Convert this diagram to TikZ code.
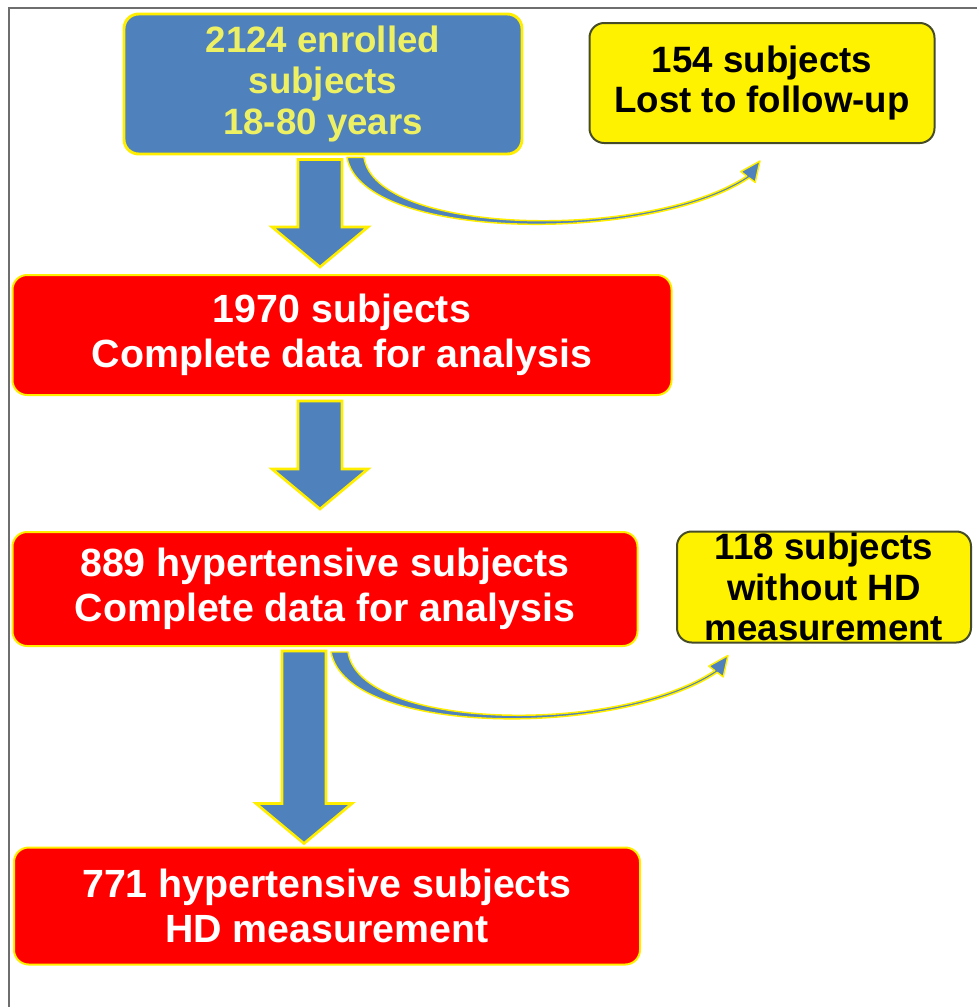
\documentclass[tikz,border=0pt]{standalone}
\usepackage{fontspec}
\setmainfont{Liberation Sans}
\usetikzlibrary{calc}

\definecolor{boxblue}{RGB}{79,129,189}
\definecolor{glowyellow}{RGB}{255,238,0}
\definecolor{textyellow}{RGB}{238,240,100}
\definecolor{boxred}{RGB}{255,0,0}
\definecolor{edgeolive}{RGB}{70,75,40}
\definecolor{framegray}{RGB}{110,110,110}

\tikzset{
  startbox/.style={
    draw=glowyellow,
    fill=boxblue,
    line width=2.2pt,
    rounded corners=11pt,
    inner sep=0pt,
    align=center,
    text=textyellow,
    font=\fontsize{27.5}{31}\selectfont\bfseries,
  },
  mainbox/.style={
    draw=glowyellow,
    fill=boxred,
    line width=1.5pt,
    rounded corners=11pt,
    inner sep=0pt,
    align=center,
    text=white,
    font=\fontsize{29.5}{33.5}\selectfont\bfseries,
  },
  lostbox/.style={
    draw=edgeolive,
    fill=yellow,
    line width=1.5pt,
    rounded corners=11pt,
    inner sep=0pt,
    align=center,
    text=black,
    font=\fontsize{27.5}{30.5}\selectfont\bfseries,
  },
  fatarrow/.style={draw=glowyellow, fill=boxblue, line width=2pt, line join=miter},
  sidearrow/.style={draw=glowyellow, fill=boxblue, line width=1.1pt, line join=round},
}

\newcommand{\fatarrow}[2]{%
  \path[fatarrow] ($(#1)+(-22,0)$) -- ($(#2)+(-22,-40)$) -- ($(#2)+(-48,-40)$) -- (#2)
    -- ($(#2)+(48,-40)$) -- ($(#2)+(22,-40)$) -- ($(#1)+(22,0)$) -- cycle;}
\newcommand{\sidearrow}[2]{%
  \path[sidearrow] (#1) .. controls ($(#1)+(15,84)$) and ($(#2)+(-110,83)$) .. ($(#2)+(-10.8,16.9)$)
    -- ($(#2)+(-4.8,21.4)$) -- (#2) -- ($(#2)+(-19.2,10.6)$) -- ($(#2)+(-13.2,15.1)$)
    .. controls ($(#2)+(-112,80)$) and ($(#1)+(29,78)$) .. ($(#1)+(17,0)$) -- cycle;}

\begin{document}
\begin{tikzpicture}[x=0.75pt, y=-0.75pt]
  \useasboundingbox[fill=white] (0,0) rectangle (977,1007);
  \draw[framegray, line width=2.2pt] (9,1007) -- (9,8) -- (977,8);

  \node[startbox, minimum width=298.5pt, minimum height=105pt] (enrolled) at (323,84)
    {2124 enrolled\\subjects\\18-80 years};
  \node[lostbox, minimum width=258.75pt, minimum height=90pt] (lost-followup) at (762,83)
    {154 subjects\\Lost to follow-up};
  \node[lostbox, minimum width=220.5pt, minimum height=83.25pt] (without-hd) at (824,587)
    {118 subjects\\without HD\\measurement};
  \begin{scope}[every node/.style={mainbox}]
    \node[minimum width=494.25pt, minimum height=90pt] (complete-data) at (342,335)
      {1970 subjects\\Complete data for analysis};
    \node[minimum width=468.75pt, minimum height=85.5pt] (hyper-complete) at (325,589)
      {889 hypertensive subjects\\Complete data for analysis};
    \node[minimum width=469.5pt, minimum height=87.75pt] (hyper-hd) at (327,906)
      {771 hypertensive subjects\\HD measurement};
  \end{scope}

  \coordinate (step-a) at ($(enrolled.south)+(-3,4)$);
  \coordinate (step-a-tip) at ($(step-a |- complete-data.north)+(0,-7)$);
  \coordinate (step-b) at ($(complete-data.south)+(-22,5)$);
  \coordinate (step-b-tip) at ($(step-b |- hyper-complete.north)+(0,-22)$);
  \coordinate (step-c) at ($(hyper-complete.south)+(-21,4)$);
  \coordinate (step-c-tip) at ($(step-c |- hyper-hd.north)+(0,-3)$);
  \coordinate (drop-a) at ($(enrolled.south)+(24,2)$);
  \coordinate (drop-a-tip) at ($(lost-followup.south)+(-2,17)$);
  \coordinate (drop-b) at ($(hyper-complete.south)+(6,5)$);
  \coordinate (drop-b-tip) at ($(without-hd.south)+(-96,12)$);

  \fatarrow{step-a}{step-a-tip}
  \fatarrow{step-b}{step-b-tip}
  \fatarrow{step-c}{step-c-tip}
  \sidearrow{drop-a}{drop-a-tip}
  \sidearrow{drop-b}{drop-b-tip}
\end{tikzpicture}
\end{document}
